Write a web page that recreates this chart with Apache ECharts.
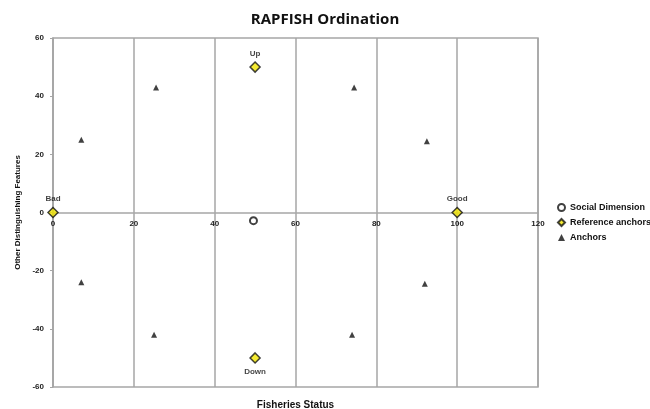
<!DOCTYPE html>
<html>
<head>
<meta charset="utf-8">
<script src="https://cdn.jsdelivr.net/npm/echarts@6/dist/echarts.min.js"></script>
<style>
  html, body { margin: 0; padding: 0; background: #fff; }
  #chart { width: 650px; height: 409px; }
</style>
</head>
<body>
<div id="chart"></div>
<script>
// Ordination result for the social dimension
const socialDimension = [[49.6, -2.8]];

// Reference anchors with their names
const referenceNames = ['Bad', 'Good', 'Up', 'Down'];
const referenceX = [0, 100, 50, 50];
const referenceY = [0, 0, 50, -50];

// Intermediate anchors
const anchorX = [7, 25.5, 74.5, 92.5, 7, 25, 74, 92];
const anchorY = [25, 43, 43, 24.5, -24, -42, -42, -24.5];

const xTicks = [0, 20, 40, 60, 80, 100, 120];

const FONT = '"Liberation Sans Narrow", "Liberation Sans", sans-serif';
const GRID_COLOR = '#a6a6a6';

// Plot area geometry
const GRID_TOP = 38, GRID_BOTTOM = 22, HEIGHT = 409;
const plotH = HEIGHT - GRID_TOP - GRID_BOTTOM;

const chart = echarts.init(document.getElementById('chart'), null, { renderer: 'canvas' });

const refData = referenceNames.map((n, i) => ({
  name: n,
  value: [referenceX[i], referenceY[i]],
  label: { position: referenceY[i] < 0 ? 'bottom' : 'top' }
}));
const anchorData = anchorX.map((x, i) => [x, anchorY[i]]);

chart.setOption({
  backgroundColor: '#fff',
  animation: false,
  title: {
    text: 'RAPFISH Ordination',
    left: 'center',
    top: 7,
    textStyle: { fontFamily: '"Open Sans", sans-serif', fontSize: 15, fontWeight: 'bold', color: '#111' }
  },
  legend: {
    orient: 'vertical',
    left: 552,
    top: 198,
    itemWidth: 7,
    itemHeight: 7,
    itemGap: 6,
    textStyle: { fontFamily: FONT, fontSize: 9, fontWeight: 'bold', color: '#111' },
    data: ['Social Dimension', 'Reference anchors', 'Anchors']
  },
  grid: {
    left: 53, right: 112, top: GRID_TOP, bottom: GRID_BOTTOM,
    outerBoundsMode: 'none',
    show: true, borderColor: GRID_COLOR, borderWidth: 1.5
  },
  xAxis: [{
    // value axis drawn through y = 0 (middle of the -60..60 range)
    type: 'value',
    position: 'bottom',
    offset: -plotH / 2,
    min: xTicks[0], max: xTicks[xTicks.length - 1], interval: 20,
    axisLine: { onZero: false, lineStyle: { color: GRID_COLOR, width: 1.5 } },
    axisTick: { show: false },
    axisLabel: { fontFamily: FONT, fontSize: 8, fontWeight: 'bold', color: '#222', margin: 7 },
    splitLine: { show: true, lineStyle: { color: GRID_COLOR, width: 1.5 } }
  }, {
    // carries only the axis title below the plot
    type: 'value',
    position: 'bottom',
    offset: 0,
    min: 0, max: 120,
    axisLine: { show: false, onZero: false },
    axisTick: { show: false },
    axisLabel: { show: false },
    splitLine: { show: false },
    name: 'Fisheries Status',
    nameLocation: 'middle',
    nameGap: 13,
    nameTextStyle: { fontFamily: FONT, fontSize: 10, fontWeight: 'bold', color: '#111' }
  }],
  yAxis: {
    type: 'value',
    min: -60, max: 60, interval: 20,
    name: 'Other Distinguishing Features',
    nameLocation: 'middle',
    nameGap: 31,
    nameTextStyle: { fontFamily: FONT, fontSize: 8, fontWeight: 'bold', color: '#111' },
    axisLine: { show: true, onZero: false, lineStyle: { color: GRID_COLOR, width: 1.5 } },
    axisTick: { show: true, inside: false, length: 3, lineStyle: { color: GRID_COLOR } },
    axisLabel: { fontFamily: FONT, fontSize: 8, fontWeight: 'bold', color: '#222', margin: 9 },
    splitLine: { show: false }
  },
  series: [{
    name: 'Social Dimension',
    type: 'scatter',
    symbol: 'circle',
    symbolSize: 7,
    itemStyle: { color: '#fff', borderColor: '#111', borderWidth: 2 },
    data: socialDimension
  }, {
    name: 'Reference anchors',
    type: 'scatter',
    symbol: 'diamond',
    symbolSize: 10,
    itemStyle: { color: '#f2e600', borderColor: '#111', borderWidth: 1.5 },
    label: {
      show: true,
      formatter: p => p.name,
      fontFamily: FONT, fontSize: 8, fontWeight: 'bold', color: '#111',
      distance: 4
    },
    data: refData
  }, {
    name: 'Anchors',
    type: 'scatter',
    symbol: 'triangle',
    symbolSize: 6,
    itemStyle: { color: '#111' },
    data: anchorData
  }]
});
</script>
</body>
</html>
